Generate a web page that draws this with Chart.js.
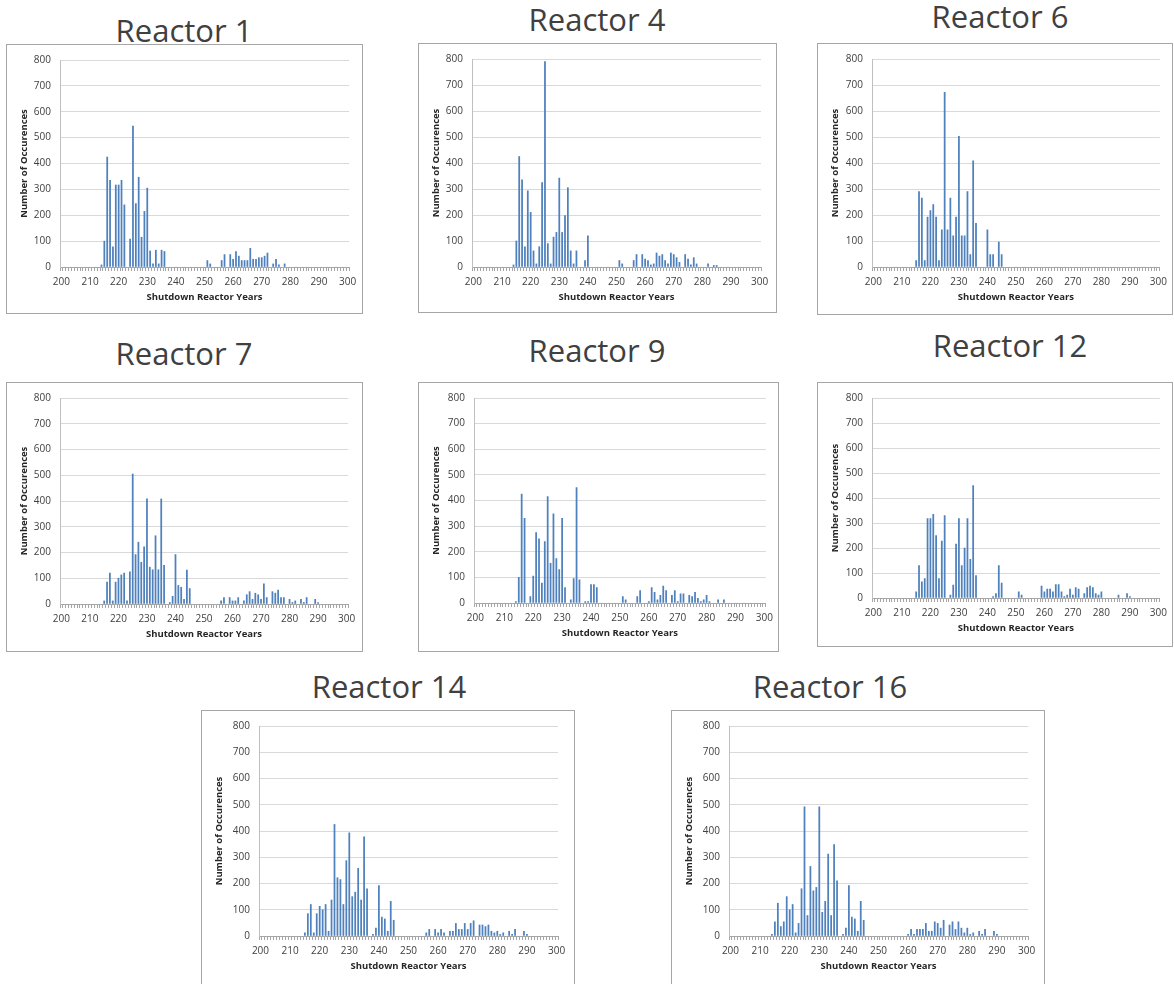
<!DOCTYPE html>
<html>
<head>
<meta charset="utf-8">
<script src="https://cdn.jsdelivr.net/npm/chart.js@4.4.0/dist/chart.umd.min.js"></script>
<style>
    body { margin: 0; background: #fff; width: 1174px; height: 984px; overflow: hidden; position: relative; font-family: "Open Sans", sans-serif; }
    .box { position: absolute; border: 1px solid #a6a6a6; box-sizing: border-box; background: #fff; overflow: hidden; }
    .box canvas { position: absolute; left: 0; top: 0; }
    .ttl { position: absolute; font-size: 31px; line-height: 31px; color: #404040; white-space: nowrap; transform: translateX(-50%); }
</style>
</head>
<body>
<script>
// Categories on the x axis (shutdown reactor years)
const years = [200, 201, 202, 203, 204, 205, 206, 207, 208, 209, 210, 211, 212, 213, 214, 215, 216, 217, 218, 219,
    220, 221, 222, 223, 224, 225, 226, 227, 228, 229, 230, 231, 232, 233, 234, 235, 236, 237, 238, 239,
    240, 241, 242, 243, 244, 245, 246, 247, 248, 249, 250, 251, 252, 253, 254, 255, 256, 257, 258, 259,
    260, 261, 262, 263, 264, 265, 266, 267, 268, 269, 270, 271, 272, 273, 274, 275, 276, 277, 278, 279,
    280, 281, 282, 283, 284, 285, 286, 287, 288, 289, 290, 291, 292, 293, 294, 295, 296, 297, 298, 299, 300];
const xTickLabels = [200, 210, 220, 230, 240, 250, 260, 270, 280, 290, 300];
const yTicks = [0, 100, 200, 300, 400, 500, 600, 700, 800];

// Occurrences per year, [year, count]; years not listed are zero
const reactor1 = [[214, 8], [215, 100], [216, 425], [217, 335], [218, 78], [219, 317], [220, 317], [221, 335], [222, 240],
    [224, 108], [225, 545], [226, 245], [227, 347], [228, 115], [229, 215], [230, 305], [231, 62], [232, 12], [233, 65],
    [234, 12], [235, 65], [236, 60], [251, 25], [252, 12], [256, 25], [257, 48], [259, 48], [260, 30], [261, 60], [262, 42],
    [263, 25], [264, 25], [265, 25], [266, 72], [267, 30], [268, 30], [269, 36], [270, 36], [271, 42], [272, 54], [274, 12],
    [275, 30], [276, 8], [278, 12]];
const reactor4 = [[214, 8], [215, 100], [216, 425], [217, 335], [218, 78], [219, 293], [220, 210], [221, 62], [222, 12],
    [223, 78], [224, 325], [225, 790], [226, 90], [227, 12], [228, 115], [229, 133], [230, 342], [231, 133], [232, 198],
    [233, 305], [234, 62], [235, 12], [236, 62], [239, 25], [240, 120], [251, 25], [252, 12], [256, 25], [257, 48], [259, 48],
    [260, 30], [261, 25], [262, 8], [263, 12], [264, 54], [265, 42], [266, 48], [267, 25], [268, 12], [269, 54], [270, 48],
    [271, 36], [272, 18], [274, 48], [275, 30], [276, 8], [277, 36], [278, 12], [282, 12], [284, 6], [285, 6]];
const reactor6 = [[215, 25], [216, 290], [217, 265], [218, 25], [219, 192], [220, 217], [221, 240], [222, 192], [223, 25],
    [224, 143], [225, 672], [226, 143], [227, 265], [228, 120], [229, 192], [230, 503], [231, 120], [232, 120], [233, 290],
    [234, 48], [235, 408], [236, 168], [240, 143], [241, 48], [242, 48], [244, 96], [245, 48]];
const reactor7 = [[215, 12], [216, 85], [217, 120], [218, 12], [219, 85], [220, 100], [221, 113], [222, 120], [223, 12],
    [224, 125], [225, 505], [226, 192], [227, 240], [228, 162], [229, 222], [230, 408], [231, 143], [232, 133], [233, 265],
    [234, 133], [235, 408], [236, 150], [238, 6], [239, 30], [240, 192], [241, 72], [242, 65], [243, 18], [244, 132], [245, 60],
    [256, 12], [257, 25], [259, 25], [260, 12], [261, 12], [262, 25], [264, 12], [265, 36], [266, 48], [267, 18], [268, 42],
    [269, 36], [270, 18], [271, 78], [272, 25], [274, 48], [275, 42], [276, 54], [277, 25], [278, 25], [280, 18], [281, 6],
    [282, 12], [284, 18], [285, 6], [286, 25], [289, 18], [290, 6]];
const reactor9 = [[214, 6], [215, 100], [216, 425], [217, 330], [219, 25], [220, 105], [221, 275], [222, 250], [223, 78],
    [224, 240], [225, 415], [226, 155], [227, 348], [228, 173], [229, 130], [230, 330], [231, 60], [233, 12], [234, 95],
    [235, 450], [236, 90], [238, 6], [239, 6], [240, 72], [241, 72], [242, 60], [251, 25], [252, 12], [256, 25], [257, 48],
    [260, 6], [261, 60], [262, 42], [263, 12], [264, 30], [265, 66], [266, 48], [268, 30], [269, 48], [270, 6], [271, 36],
    [272, 36], [274, 30], [275, 25], [276, 42], [277, 18], [278, 6], [279, 12], [280, 30], [281, 6], [284, 12], [286, 12]];
const reactor12 = [[215, 25], [216, 130], [217, 65], [218, 78], [219, 318], [220, 318], [221, 335], [222, 250], [223, 78],
    [224, 228], [225, 330], [227, 12], [228, 52], [229, 216], [230, 318], [231, 130], [232, 200], [233, 318], [234, 155],
    [235, 450], [236, 90], [242, 6], [243, 18], [244, 130], [245, 60], [251, 25], [252, 12], [259, 48], [260, 25], [261, 36],
    [262, 36], [263, 25], [264, 54], [265, 54], [266, 25], [267, 6], [268, 12], [269, 36], [270, 12], [271, 42], [272, 36],
    [274, 18], [275, 42], [276, 48], [277, 42], [278, 18], [279, 12], [280, 25], [286, 12], [289, 18], [290, 6]];
const reactor14 = [[215, 12], [216, 85], [217, 120], [218, 12], [219, 85], [220, 113], [221, 100], [222, 120], [223, 18],
    [224, 137], [225, 425], [226, 222], [227, 215], [228, 120], [229, 287], [230, 393], [231, 150], [232, 167], [233, 258],
    [234, 137], [235, 378], [236, 180], [238, 6], [239, 30], [240, 192], [241, 72], [242, 65], [243, 18], [244, 132], [245, 60],
    [256, 12], [257, 25], [259, 25], [260, 12], [261, 25], [262, 12], [264, 18], [265, 18], [266, 48], [267, 25], [268, 25],
    [269, 48], [270, 25], [271, 48], [272, 58], [274, 42], [275, 42], [276, 36], [277, 42], [278, 18], [279, 12], [280, 18],
    [281, 6], [282, 12], [284, 18], [285, 6], [286, 25], [289, 18], [290, 6]];
const reactor16 = [[214, 6], [215, 54], [216, 125], [217, 36], [218, 54], [219, 150], [220, 100], [221, 120], [222, 12],
    [223, 48], [224, 180], [225, 492], [226, 78], [227, 265], [228, 172], [229, 185], [230, 492], [231, 90], [232, 132],
    [233, 312], [234, 78], [235, 348], [236, 210], [238, 6], [239, 30], [240, 192], [241, 72], [242, 65], [243, 18], [244, 132],
    [245, 60], [260, 6], [261, 25], [262, 6], [263, 25], [264, 25], [265, 25], [266, 48], [267, 18], [268, 18], [269, 54],
    [270, 48], [271, 30], [272, 60], [274, 42], [275, 54], [276, 25], [277, 54], [278, 30], [279, 12], [280, 30], [281, 6],
    [282, 12], [284, 18], [285, 6], [286, 25], [289, 18], [290, 6]];

// Panel placement: box [left, top, width, height], plot insets [left, right, top, bottom], title [centerX, baseline]
const panels = [
    { name: 'Reactor 1', data: reactor1, box: [6, 44, 357, 270], ins: [54, 14, 12, 47], title: [184, 42] },
    { name: 'Reactor 4', data: reactor4, box: [418, 43, 359, 270], ins: [54, 16, 14, 46], title: [597, 31] },
    { name: 'Reactor 6', data: reactor6, box: [817, 43, 356, 272], ins: [55, 10, 11, 48], title: [1000, 28] },
    { name: 'Reactor 7', data: reactor7, box: [6, 382, 357, 270], ins: [54, 15, 11, 48], title: [184, 365] },
    { name: 'Reactor 9', data: reactor9, box: [418, 382, 361, 270], ins: [56, 12, 11, 49], title: [597, 362] },
    { name: 'Reactor 12', data: reactor12, box: [817, 382, 356, 265], ins: [55, 10, 11, 49], title: [1010, 357] },
    { name: 'Reactor 14', data: reactor14, box: [201, 710, 374, 280], ins: [58, 17, 12, 54], title: [389, 698] },
    { name: 'Reactor 16', data: reactor16, box: [671, 710, 374, 280], ins: [58, 17, 12, 54], title: [830, 698] }
];

const tickFont = { family: '"Open Sans", sans-serif', size: 10 };
const titleFont = { family: '"Open Sans", sans-serif', size: 9.5, weight: 'bold' };

function makePanel(p) {
    const [bx, by, bw, bh] = p.box;
    const [il, ir, it, ib] = p.ins;

    const title = document.createElement('div');
    title.className = 'ttl';
    title.textContent = p.name;
    title.style.left = p.title[0] + 'px';
    title.style.top = (p.title[1] - 27.5) + 'px';
    document.body.appendChild(title);

    const box = document.createElement('div');
    box.className = 'box';
    box.style.left = bx + 'px';
    box.style.top = by + 'px';
    box.style.width = bw + 'px';
    box.style.height = bh + 'px';
    const canvas = document.createElement('canvas');
    canvas.width = bw - 2;
    canvas.height = bh - 2;
    box.appendChild(canvas);
    document.body.appendChild(box);

    new Chart(canvas.getContext('2d'), {
        type: 'bar',
        data: {
            labels: years.map(String),
            datasets: [{
                label: p.name,
                data: p.data.map(([x, y]) => ({ x: String(x), y: y })),
                backgroundColor: '#4f81bd',
                barThickness: 1.1,
                borderWidth: 0
            }]
        },
        options: {
            responsive: false,
            animation: false,
            events: [],
            layout: { padding: { left: 0, right: ir - 1, top: it - 1, bottom: 0 } },
            plugins: { legend: { display: false }, tooltip: { enabled: false } },
            scales: {
                x: {
                    type: 'category',
                    offset: true,
                    afterFit: s => { s.height = ib - 1; },
                    grid: { offset: true, drawOnChartArea: false, drawTicks: true, tickLength: 4, color: '#a6a6a6' },
                    border: { display: true, color: '#a6a6a6' },
                    ticks: {
                        autoSkip: false,
                        maxRotation: 0,
                        minRotation: 0,
                        padding: 5,
                        color: '#404040',
                        font: tickFont,
                        callback: function (v) {
                            const yr = Number(this.getLabelForValue(v));
                            return xTickLabels.includes(yr) ? String(yr) : '';
                        }
                    },
                    title: {
                        display: true,
                        text: 'Shutdown Reactor Years',
                        color: '#262626',
                        font: titleFont,
                        padding: { top: 0, bottom: ib - 37 }
                    }
                },
                y: {
                    min: yTicks[0],
                    max: yTicks[yTicks.length - 1],
                    afterFit: s => { s.width = il - 1; },
                    afterBuildTicks: s => { s.ticks = yTicks.map(v => ({ value: v })); },
                    grid: { drawTicks: false, color: '#d9d9d9' },
                    border: { display: true, color: '#bfbfbf' },
                    ticks: { padding: 9, color: '#404040', font: tickFont },
                    title: {
                        display: true,
                        text: 'Number of Occurences',
                        color: '#262626',
                        font: titleFont,
                        padding: { top: 12, bottom: 0 }
                    }
                }
            }
        }
    });
}

panels.forEach(makePanel);
</script>
</body>
</html>
